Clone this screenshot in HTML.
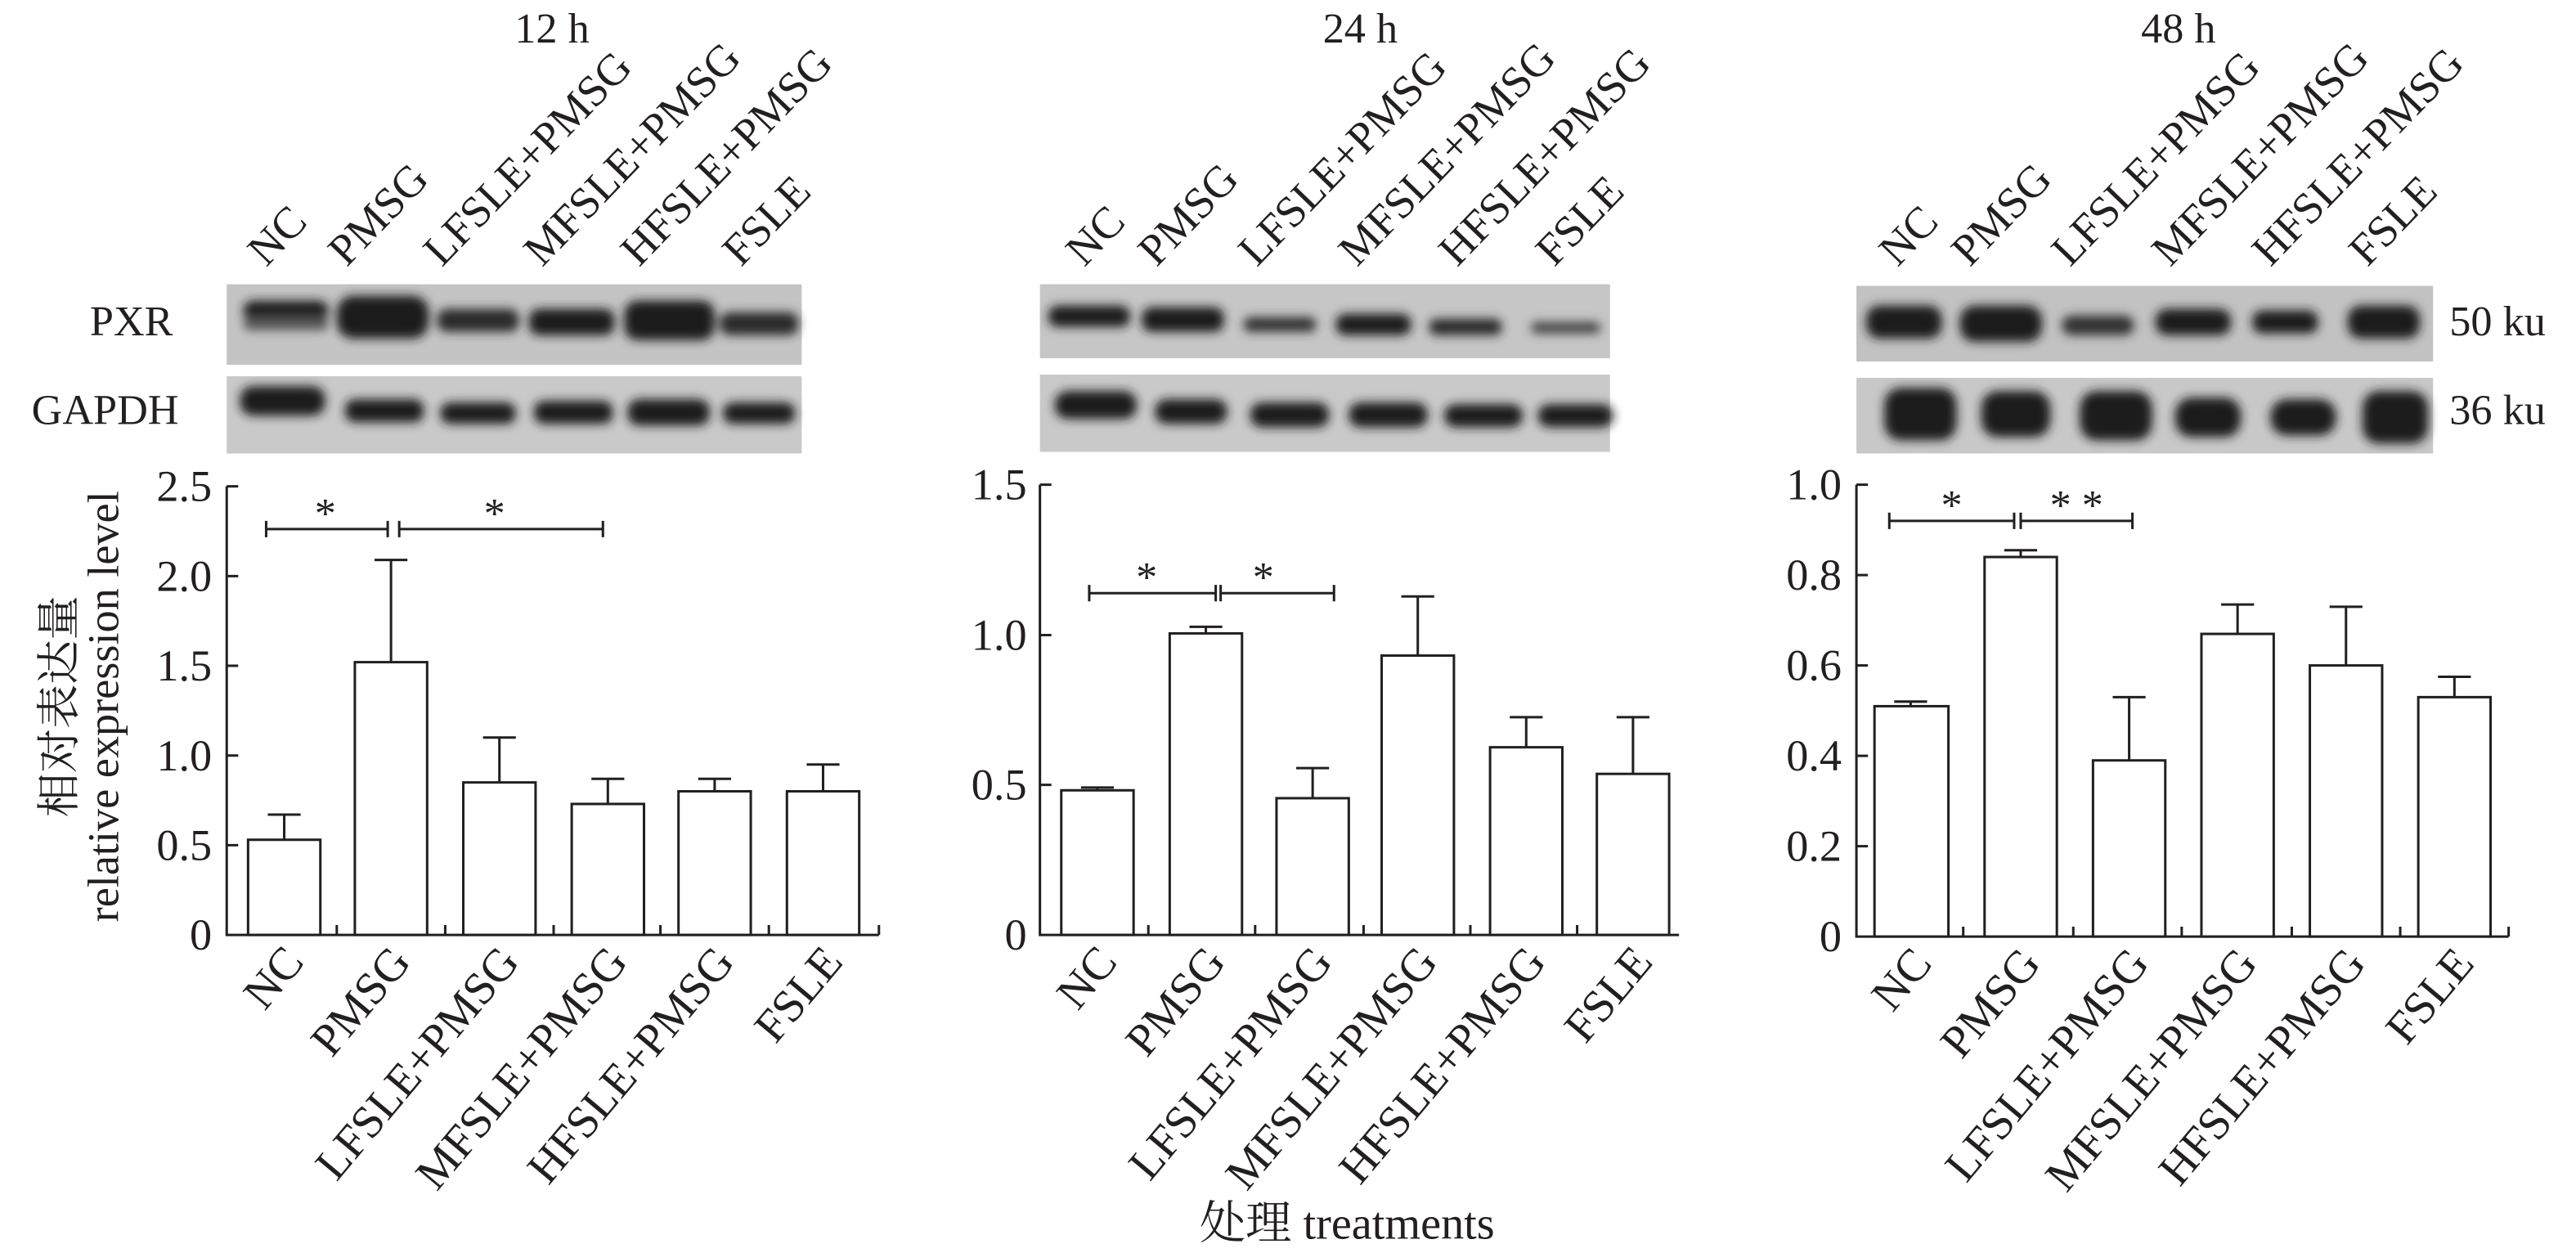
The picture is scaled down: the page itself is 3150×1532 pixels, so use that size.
<!DOCTYPE html>
<html><head><meta charset="utf-8"><style>
html,body{margin:0;padding:0;background:#fff;}
svg{display:block;}
text{font-family:"Liberation Serif","Noto Serif CJK SC",serif;fill:#231f20;}
</style></head><body>
<svg width="3150" height="1532" viewBox="0 0 1568 762.6" preserveAspectRatio="none" xmlns="http://www.w3.org/2000/svg">
<defs>
<filter id="b" x="-20%" y="-50%" width="140%" height="200%"><feGaussianBlur stdDeviation="3"/></filter>
</defs>

<text x="336" y="26" font-size="26" text-anchor="middle">12 h</text>
<text x="828" y="26" font-size="26" text-anchor="middle">24 h</text>
<text x="1326" y="26" font-size="26" text-anchor="middle">48 h</text>

<g font-size="27">
<g>
<text transform="translate(162,163) rotate(-46)">NC</text>
<text transform="translate(211,163) rotate(-46)">PMSG</text>
<text transform="translate(269,163) rotate(-46)">LFSLE+PMSG</text>
<text transform="translate(330,163) rotate(-46)">MFSLE+PMSG</text>
<text transform="translate(389,163) rotate(-46)">HFSLE+PMSG</text>
<text transform="translate(451,163) rotate(-46)">FSLE</text>
</g>
<g transform="translate(498,0)">
<text transform="translate(162,163) rotate(-46)">NC</text>
<text transform="translate(206,163) rotate(-46)">PMSG</text>
<text transform="translate(267,163) rotate(-46)">LFSLE+PMSG</text>
<text transform="translate(328,163) rotate(-46)">MFSLE+PMSG</text>
<text transform="translate(389,163) rotate(-46)">HFSLE+PMSG</text>
<text transform="translate(448,163) rotate(-46)">FSLE</text>
</g>
<g transform="translate(993,0)">
<text transform="translate(162,163) rotate(-46)">NC</text>
<text transform="translate(206,163) rotate(-46)">PMSG</text>
<text transform="translate(267,163) rotate(-46)">LFSLE+PMSG</text>
<text transform="translate(328,163) rotate(-46)">MFSLE+PMSG</text>
<text transform="translate(389,163) rotate(-46)">HFSLE+PMSG</text>
<text transform="translate(448,163) rotate(-46)">FSLE</text>
</g>
</g>

<text x="80" y="204" font-size="26" text-anchor="middle">PXR</text>
<text x="64" y="258" font-size="26" text-anchor="middle">GAPDH</text>
<text x="1491" y="204" font-size="26">50 ku</text>
<text x="1491" y="258" font-size="26">36 ku</text>

<rect x="138" y="173" width="350" height="49" fill="#c4c4c4"/>
<rect x="138" y="229" width="350" height="47" fill="#c9c9c9"/>
<g filter="url(#b)" fill="#1a1a1a">
<rect x="148" y="183" width="52" height="12" rx="6"/><rect x="148" y="193" width="52" height="8" rx="4" fill="#555"/>
<rect x="205" y="180" width="56" height="26" rx="10"/>
<rect x="266" y="188" width="50" height="14" rx="6" fill="#2a2a2a"/>
<rect x="322" y="188" width="52" height="16" rx="6"/>
<rect x="380" y="183" width="55" height="24" rx="8"/>
<rect x="438" y="190" width="48" height="14" rx="6" fill="#2a2a2a"/>
<rect x="146" y="235" width="52" height="18" rx="8"/>
<rect x="210" y="243" width="48" height="14" rx="6"/>
<rect x="268" y="245" width="46" height="13" rx="6"/>
<rect x="325" y="244" width="48" height="14" rx="6"/>
<rect x="382" y="243" width="50" height="16" rx="7"/>
<rect x="440" y="245" width="44" height="13" rx="6"/>
</g>
<rect x="633" y="173" width="347" height="45" fill="#c6c6c6"/>
<rect x="633" y="228" width="347" height="47" fill="#c9c9c9"/>
<g filter="url(#b)" fill="#1a1a1a">
<rect x="638" y="186" width="50" height="13" rx="6"/>
<rect x="695" y="187" width="50" height="15" rx="6"/>
<rect x="757" y="193" width="44" height="9" rx="4" fill="#333"/>
<rect x="813" y="191" width="46" height="13" rx="6"/>
<rect x="870" y="194" width="44" height="10" rx="4" fill="#2a2a2a"/>
<rect x="932" y="196" width="42" height="7" rx="3" fill="#444"/>
<rect x="642" y="238" width="50" height="17" rx="8"/>
<rect x="703" y="243" width="44" height="15" rx="7"/>
<rect x="761" y="245" width="48" height="15" rx="7"/>
<rect x="821" y="245" width="48" height="15" rx="7"/>
<rect x="879" y="246" width="48" height="14" rx="7"/>
<rect x="936" y="246" width="46" height="14" rx="7"/>
</g>
<rect x="1130" y="174" width="351" height="46" fill="#c2c2c2"/>
<rect x="1130" y="230" width="351" height="46" fill="#c8c8c8"/>
<g filter="url(#b)" fill="#1a1a1a">
<rect x="1136" y="186" width="46" height="20" rx="8"/>
<rect x="1193" y="186" width="50" height="22" rx="9"/>
<rect x="1255" y="192" width="44" height="12" rx="6" fill="#333"/>
<rect x="1312" y="188" width="46" height="16" rx="7"/>
<rect x="1371" y="189" width="40" height="14" rx="6"/>
<rect x="1429" y="186" width="44" height="20" rx="8"/>
<rect x="1147" y="236" width="44" height="32" rx="10"/>
<rect x="1206" y="238" width="42" height="28" rx="10"/>
<rect x="1266" y="238" width="44" height="30" rx="10"/>
<rect x="1324" y="242" width="40" height="24" rx="10"/>
<rect x="1382" y="243" width="40" height="22" rx="10"/>
<rect x="1438" y="238" width="40" height="32" rx="10"/>
</g>

<g stroke="#231f20" stroke-width="1.5" fill="none">
<path d="M138,296 V569 H535"/>
<path d="M138,296 h7 M138,350.6 h7 M138,405.2 h7 M138,459.8 h7 M138,514.4 h7"/>
<path d="M205,569 v-6 M271,569 v-6 M337,569 v-6 M402,569 v-6 M468,569 v-6 M535,569 v-6"/>
<rect x="151" y="511.1" width="44" height="57.9" fill="#fff"/><path d="M173,511.1 V495.8 M163,495.8 h20"/>
<rect x="216" y="403" width="44" height="166" fill="#fff"/><path d="M238,403 V340.8 M228,340.8 h20"/>
<rect x="282" y="476.2" width="44" height="92.8" fill="#fff"/><path d="M304,476.2 V448.9 M294,448.9 h20"/>
<rect x="348" y="489.3" width="44" height="79.7" fill="#fff"/><path d="M370,489.3 V474 M360,474 h20"/>
<rect x="413" y="481.6" width="44" height="87.4" fill="#fff"/><path d="M435,481.6 V474 M425,474 h20"/>
<rect x="479" y="481.6" width="44" height="87.4" fill="#fff"/><path d="M501,481.6 V465.3 M491,465.3 h20"/>
<path d="M162,322 H236 M162,317 v10 M236,317 v10 M243,322 H367 M243,317 v10 M367,317 v10"/>

<path d="M633,295 V569 H1022"/>
<path d="M633,295 h7 M633,386.5 h7 M633,477.7 h7"/>
<path d="M699,569 v-6 M764,569 v-6 M830,569 v-6 M895,569 v-6 M960,569 v-6"/>
<rect x="646" y="481" width="44" height="88" fill="#fff"/><path d="M668,481 V479.3 M658,479.3 h20"/>
<rect x="712" y="385.5" width="44" height="183.5" fill="#fff"/><path d="M734,385.5 V381.5 M724,381.5 h20"/>
<rect x="777" y="485.8" width="44" height="83.2" fill="#fff"/><path d="M799,485.8 V467.5 M789,467.5 h20"/>
<rect x="841" y="399" width="44" height="170" fill="#fff"/><path d="M863,399 V363 M853,363 h20"/>
<rect x="907" y="454.8" width="44" height="114.2" fill="#fff"/><path d="M929,454.8 V436.5 M919,436.5 h20"/>
<rect x="972" y="471" width="44" height="98" fill="#fff"/><path d="M994,471 V436.5 M984,436.5 h20"/>
<path d="M663,361 H740 M663,356 v10 M740,356 v10 M743,361 H812 M743,356 v10 M812,356 v10"/>

<path d="M1130,295 V570 H1527"/>
<path d="M1130,295 h7 M1130,350 h7 M1130,405 h7 M1130,460 h7 M1130,515 h7"/>
<path d="M1195,570 v-6 M1262,570 v-6 M1328,570 v-6 M1395,570 v-6 M1461,570 v-6 M1527,570 v-6"/>
<rect x="1141" y="429.8" width="45" height="140.2" fill="#fff"/><path d="M1163,429.8 V427 M1153,427 h20"/>
<rect x="1208" y="339" width="44" height="231" fill="#fff"/><path d="M1230,339 V334.9 M1220,334.9 h20"/>
<rect x="1274" y="462.8" width="44" height="107.2" fill="#fff"/><path d="M1296,462.8 V424.3 M1286,424.3 h20"/>
<rect x="1340" y="385.8" width="44" height="184.2" fill="#fff"/><path d="M1362,385.8 V367.9 M1352,367.9 h20"/>
<rect x="1406" y="405" width="44" height="165" fill="#fff"/><path d="M1428,405 V369.3 M1418,369.3 h20"/>
<rect x="1472" y="424.3" width="44" height="145.7" fill="#fff"/><path d="M1494,424.3 V411.9 M1484,411.9 h20"/>
<path d="M1150,317 H1226 M1150,312 v10 M1226,312 v10 M1230,317 H1298 M1230,312 v10 M1298,312 v10"/>
</g>

<g font-size="26" text-anchor="middle">
<text x="198" y="321">*</text><text x="301" y="321">*</text>
<text x="698" y="360">*</text><text x="769" y="360">*</text>
<text x="1188" y="316">*</text><text x="1264" y="316">* *</text>
</g>

<g font-size="27" text-anchor="end">
<text x="129" y="305">2.5</text><text x="129" y="359.6">2.0</text><text x="129" y="414.2">1.5</text><text x="129" y="468.8">1.0</text><text x="129" y="523.4">0.5</text><text x="129" y="578">0</text>
<text x="625" y="304">1.5</text><text x="625" y="395.5">1.0</text><text x="625" y="486.7">0.5</text><text x="625" y="578">0</text>
<text x="1121" y="304">1.0</text><text x="1121" y="359">0.8</text><text x="1121" y="414">0.6</text><text x="1121" y="469">0.4</text><text x="1121" y="524">0.2</text><text x="1121" y="579">0</text>
</g>

<g font-size="28" text-anchor="end">
<text transform="translate(186,586) rotate(-50)">NC</text>
<text transform="translate(251,586) rotate(-50)">PMSG</text>
<text transform="translate(317,586) rotate(-50)">LFSLE+PMSG</text>
<text transform="translate(383,586) rotate(-50)">MFSLE+PMSG</text>
<text transform="translate(448,586) rotate(-50)">HFSLE+PMSG</text>
<text transform="translate(514,586) rotate(-50)">FSLE</text>
<text transform="translate(681,586) rotate(-50)">NC</text>
<text transform="translate(747,586) rotate(-50)">PMSG</text>
<text transform="translate(812,586) rotate(-50)">LFSLE+PMSG</text>
<text transform="translate(876,586) rotate(-50)">MFSLE+PMSG</text>
<text transform="translate(942,586) rotate(-50)">HFSLE+PMSG</text>
<text transform="translate(1007,586) rotate(-50)">FSLE</text>
<text transform="translate(1177,587) rotate(-50)">NC</text>
<text transform="translate(1243,587) rotate(-50)">PMSG</text>
<text transform="translate(1309,587) rotate(-50)">LFSLE+PMSG</text>
<text transform="translate(1375,587) rotate(-50)">MFSLE+PMSG</text>
<text transform="translate(1441,587) rotate(-50)">HFSLE+PMSG</text>
<text transform="translate(1507,587) rotate(-50)">FSLE</text>
</g>

<text transform="translate(45,430) rotate(-90)" font-size="27" text-anchor="middle">相对表达量</text>
<text transform="translate(72,430) rotate(-90)" font-size="27" text-anchor="middle">relative expression level</text>
<text x="820" y="754" font-size="28" text-anchor="middle">处理 treatments</text>
</svg>
</body></html>
